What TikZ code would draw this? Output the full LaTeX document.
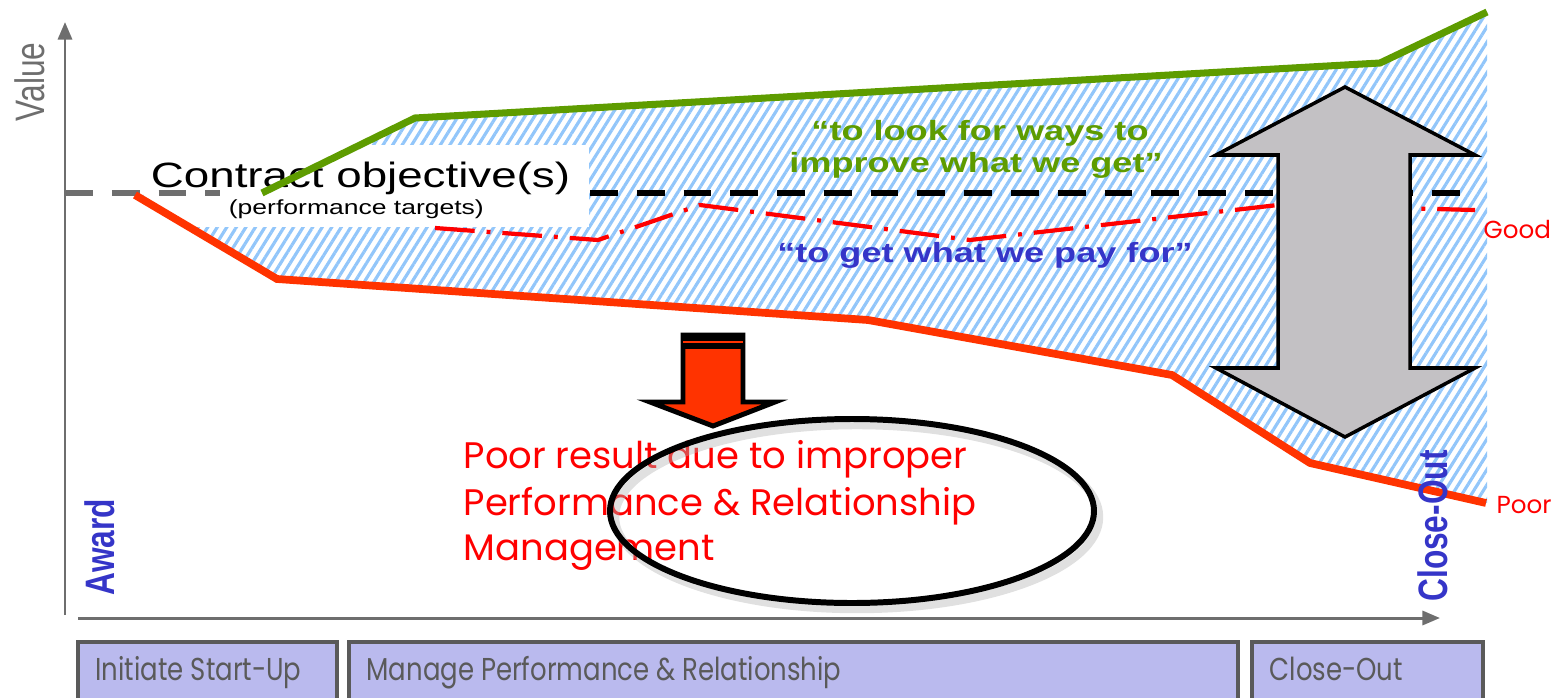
\documentclass[tikz,border=0pt]{standalone}
\usepackage{fontspec}
\setmainfont{Liberation Sans}
\newfontfamily\futura{Poppins}
\usetikzlibrary{patterns.meta,arrows.meta}

\definecolor{hatchblue}{HTML}{92C6FA}
\definecolor{goodgreen}{HTML}{5E9C00}
\definecolor{poorred}{HTML}{FF3300}
\definecolor{axisgray}{HTML}{6E6E6E}
\definecolor{quoteblue}{HTML}{3535C8}
\definecolor{phasefill}{HTML}{BABAEE}
\definecolor{phaseline}{HTML}{5A5A5A}
\definecolor{arrowgray}{HTML}{C3C1C4}

\begin{document}
\begin{tikzpicture}[x=0.01cm,y=-0.01cm,
  every node/.style={inner sep=0pt},
  wide/.style={xscale=1.3},
  quote/.style={wide,font=\bfseries\fontsize{7.9}{9}\selectfont,anchor=base},
  side/.style={xscale=1.3,rotate=90,font=\bfseries\fontsize{9}{10}\selectfont,text=quoteblue},
  reason/.style={font=\futura\fontsize{10.5}{12}\selectfont,text=red,anchor=base west},
  level/.style={font=\futura\fontsize{7}{8}\selectfont,text=red,anchor=base west},
  phase/.style={draw=phaseline,line width=0.9pt,fill=phasefill},
  phasetext/.style={font=\futura\fontsize{9}{10}\selectfont,text=phaseline,anchor=base west,xscale=0.82},
  bigarrow/.style={draw=black,line width=1pt,fill=arrowgray,line join=miter},
  target/.style={line width=1.7pt,dash pattern=on 7.9pt off 5.4pt}]
  \useasboundingbox (0,0) rectangle (1567,697);
  % band between the two outcomes
  \fill[pattern={Lines[angle=58,distance=2.3pt,line width=0.9pt]},pattern color=hatchblue]
    (262,193) -- (415,118) -- (1380,63) -- (1487,12) -- (1487,503) -- (1310,463)
    -- (1172,375) -- (868,320) -- (277,279) -- (135,195) -- cycle;
  \fill[white] (147,145) rectangle (589,227);
  % objective line
  \draw[target,axisgray] (65,193) -- (220,193);
  \draw[target,black] (590,193) -- (1475,193);
  \draw[red,line width=1.2pt,dash pattern=on 11.3pt off 3.4pt on 1.1pt off 3.4pt]
    (435,228) -- (598,240) -- (700,205) -- (970,240) -- (1278,205) -- (1475,210);
  \node[wide,font=\fontsize{10}{12}\selectfont,anchor=base west] (objective) at (150,187) {Contract objective(s)};
  \node[wide,font=\fontsize{5.8}{7}\selectfont,anchor=base west] (targets) at (228,214) {(performance targets)};
  % outcomes
  \draw[goodgreen,line width=2pt] (262,193) -- (415,118) -- (1380,63) -- (1487,12);
  \draw[poorred,line width=2.2pt] (135,195) -- (277,279) -- (868,320) -- (1172,375) -- (1310,463) -- (1486,503);
  % axes
  \coordinate (ybot) at (65,615);
  \coordinate (ytop) at (65,22);
  \coordinate (xleft) at (78,618);
  \coordinate (xright) at (1440,618);
  \draw[axisgray,line width=0.85pt,-{Triangle[length=5pt,width=4pt]}] (ybot) -- (ytop);
  \draw[axisgray,line width=0.85pt,-{Triangle[length=5pt,width=4pt]}] (xleft) -- (xright);
  \node[xscale=1.3,rotate=90,font=\fontsize{9}{10}\selectfont,text=axisgray] (value) at (30,82) {Value};
  \node[side] (award) at (100,547) {Award};
  \node[side] (closeout) at (1433,526) {Close-Out};
  % quotes
  \node[quote,text=goodgreen] (improve) at (980,140) {“to look for ways to};
  \node[quote,text=goodgreen] (improvegot) at (976,172) {improve what we get”};
  \node[quote,text=quoteblue] (payfor) at (985,262) {“to get what we pay for”};
  \node[level] (good) at (1483,238) {Good};
  \node[level] (poor) at (1496,513) {Poor};
  % spread
  \filldraw[bigarrow] (1345,87) -- (1475,155) -- (1410,155) -- (1410,368) -- (1475,368) -- (1345,437)
    -- (1216,368) -- (1278,368) -- (1278,155) -- (1216,155) -- cycle;
  % drop
  \filldraw[draw=black,line width=1.4pt,fill=poorred,line join=miter] (683,335) -- (743,335) -- (743,402)
    -- (775,402) -- (713,426) -- (650,402) -- (683,402) -- cycle;
  \fill[black] (681,333) rectangle (745,349);
  \draw[poorred,line width=0.4pt] (683,342) -- (743,342);
  \node[reason] (reason) at (463,468) {Poor result due to improper};
  \node[reason] (reasonb) at (463,515) {Performance \& Relationship};
  \node[reason] (reasonc) at (463,560) {Management};
  \draw[black!30,line width=2.4pt,opacity=0.4] (857,517) ellipse [x radius=242,y radius=92];
  \draw[black,line width=1.7pt] (852,511) ellipse [x radius=242,y radius=92];
  % phases
  \foreach \l/\r/\nm/\tx in {78/337/startup/Initiate Start-Up,349/1238/manage/Manage Performance \& Relationship,1252/1483/close/Close-Out}{
    \draw[phase] (\l,642) rectangle (\r,712);
    \node[phasetext] (\nm) at (\l+17,680) {\tx};
  }
\end{tikzpicture}
\end{document}
